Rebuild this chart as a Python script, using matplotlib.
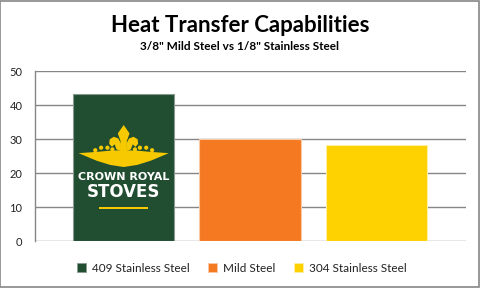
import numpy as np
import matplotlib.pyplot as plt
from matplotlib.patches import Polygon, Ellipse, Rectangle

# chart data
materials = ['409 Stainless Steel', 'Mild Steel', '304 Stainless Steel']
heat_transfer = [43.1, 30.0, 28.1]
bar_colors = ['#214d31', '#f47920', '#fed100']
edge_colors = ['#8a9a8e', '#f9c9a6', '#fff0a0']
y_ticks = [0, 10, 20, 30, 40, 50]

plt.rcParams['font.family'] = ['Lato', 'DejaVu Sans']

fig = plt.figure(figsize=(4.8, 2.88), dpi=100)
ax = fig.add_axes([35/480, 1-241/288, 431/480, 170/288])

x = np.arange(len(materials))
bars = ax.bar(x, heat_transfer, width=0.80, color=bar_colors,
              edgecolor=edge_colors, linewidth=0.8, zorder=3)

ax.set_xlim(-0.702, 2.71)
ax.set_ylim(0, 50)
ax.set_yticks(y_ticks)
ax.set_xticks([])
ax.tick_params(axis='y', length=0, pad=9, labelsize=8, labelcolor='#222222')
ax.yaxis.grid(True, color='#868686', linewidth=1.0, zorder=0)
for s in ['top', 'right', 'bottom']:
    ax.spines[s].set_visible(False)
ax.spines['left'].set_color('#868686')
ax.spines['left'].set_linewidth(1.0)

# crown logo on the first bar
cx = x[0]
logo_yellow = '#f6c900'
sx, sy0, sy = 0.357, 21.76, 12.35
def to_data(u, v):
    # u in [-1,1] across the crown, v in [0,1] bottom to top
    return (cx + u * sx, sy0 + v * sy)

band = [(-1, 0.33), (-0.6, 0.36), (-0.3, 0.39), (0, 0.40), (0.3, 0.39), (0.6, 0.36),
        (1, 0.33), (0.6, 0.15), (0.3, 0.05), (0, 0.0), (-0.3, 0.05), (-0.6, 0.15)]
ax.add_patch(Polygon([to_data(u, v) for u, v in band], closed=True,
                     color=logo_yellow, zorder=5, lw=0))
spike = [(-0.07, 0.36), (-0.07, 0.62), (-0.13, 0.80), (0, 1.0), (0.13, 0.80),
         (0.07, 0.62), (0.07, 0.36)]
ax.add_patch(Polygon([to_data(u, v) for u, v in spike], closed=True,
                     color=logo_yellow, zorder=5, lw=0))
for sgn in (-1, 1):
    petal = [(sgn*0.06, 0.38), (sgn*0.06, 0.56), (sgn*0.12, 0.68), (sgn*0.22, 0.72),
             (sgn*0.31, 0.66), (sgn*0.32, 0.55), (sgn*0.26, 0.48), (sgn*0.20, 0.54),
             (sgn*0.16, 0.42)]
    ax.add_patch(Polygon([to_data(u, v) for u, v in petal], closed=True,
                         color=logo_yellow, zorder=5, lw=0))
    for u, v in [(0.25, 0.42), (0.36, 0.46), (0.50, 0.46), (0.63, 0.40)]:
        px, py = to_data(sgn*u, v)
        ax.add_patch(Ellipse((px, py), 4.2/126, 4.2/3.4, color=logo_yellow,
                             zorder=5, lw=0))

ax.text(cx, 18.8, 'CROWN ROYAL', ha='center', va='center', color='white',
        fontsize=8.0, fontweight='bold', family=['DejaVu Sans'], zorder=6)
ax.text(cx, 14.4, 'STOVES', ha='center', va='center', color='white',
        fontsize=12.0, fontweight='bold', family=['DejaVu Sans'], zorder=6)
ax.add_patch(Rectangle((cx - 0.194, 9.4), 0.388, 0.65, color=logo_yellow, zorder=5, lw=0))

# titles
fig.text(0.5, 1-25/288, 'Heat Transfer Capabilities', ha='center', va='center',
         fontsize=16, fontweight='bold', color='black')
fig.text(0.5, 1-47/288, '3/8" Mild Steel vs 1/8" Stainless Steel', ha='center',
         va='center', fontsize=8.5, fontweight='bold', color='black')

# legend
handles = [Rectangle((0, 0), 1, 1, facecolor=c, edgecolor=e, lw=0.6)
           for c, e in zip(bar_colors, edge_colors)]
fig.legend(handles, materials, loc='center', bbox_to_anchor=(242/480, 1-268/288),
           ncol=3, frameon=False, fontsize=8.5, handlelength=0.75, handleheight=0.75,
           handletextpad=0.5, columnspacing=1.6, labelcolor='#222222')

# outer border
fig.patches.append(Rectangle((0.001, 0.002), 0.997, 0.995, transform=fig.transFigure,
                             fill=False, edgecolor='#868686', lw=1.2))

fig.savefig('out.png', dpi=100)
